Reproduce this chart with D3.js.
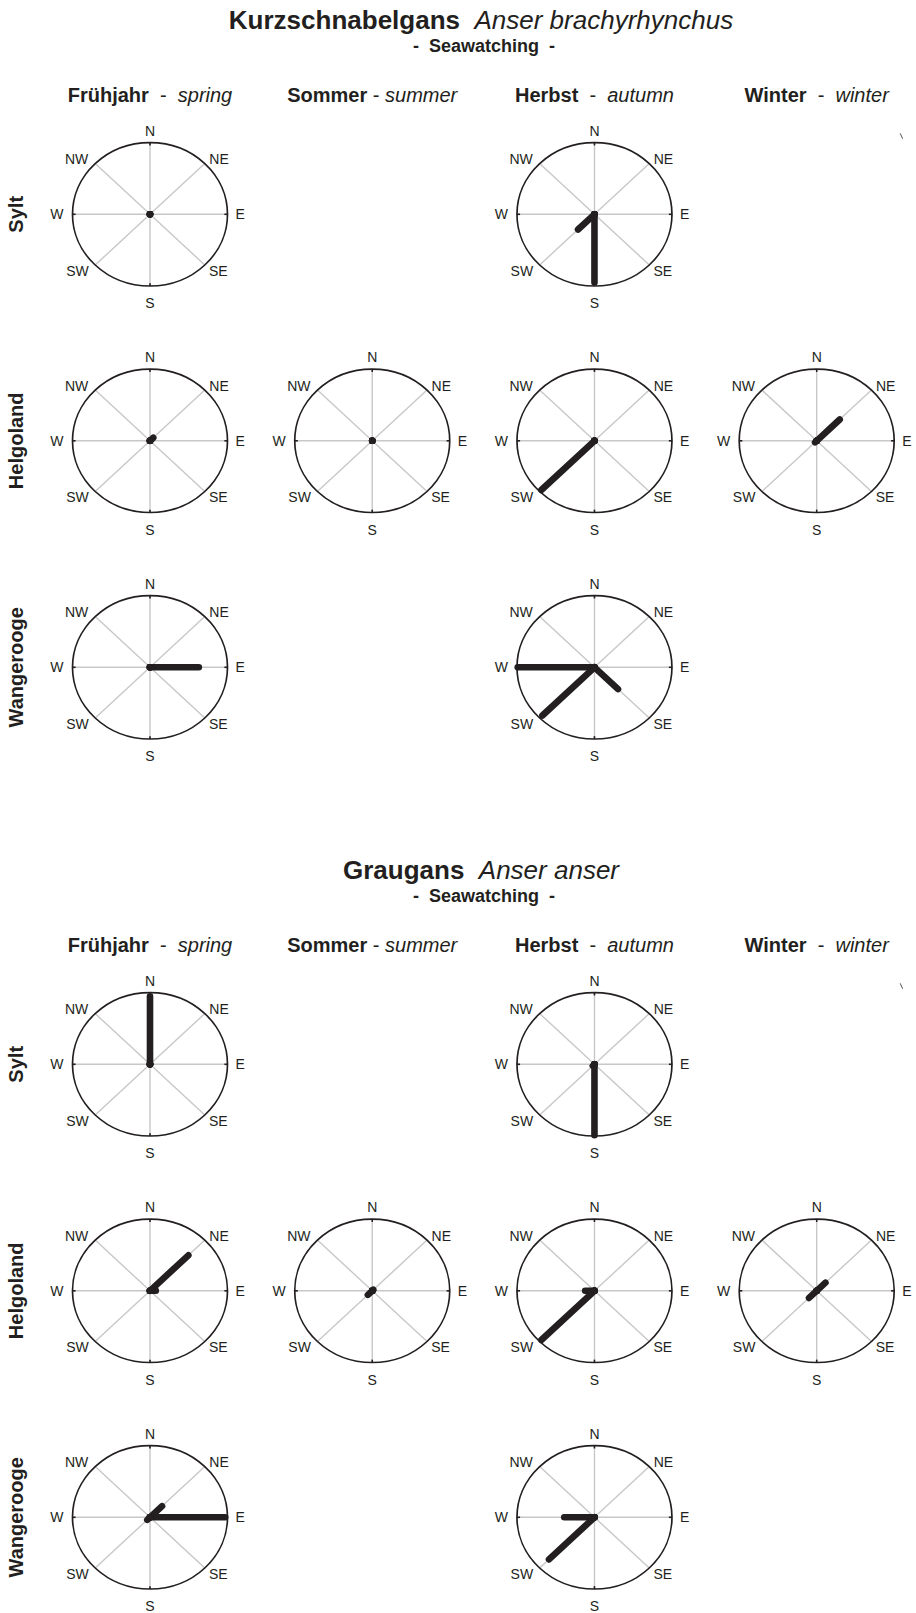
<!DOCTYPE html>
<html>
<head>
<meta charset="utf-8">
<script src="https://cdn.jsdelivr.net/npm/d3@7"></script>
<style>
  body { margin: 0; background: #fff; }
  svg text { font-family: "Liberation Sans", Arial, Helvetica, sans-serif; fill: #231f20; white-space: pre; }
</style>
</head>
<body>
<svg id="chart"></svg>
<script>
// Compass directions, clockwise from north
const directions = ["N", "NE", "E", "SE", "S", "SW", "W", "NW"];

// Seasons (German / English) and observation sites
const seasonsDe = ["Frühjahr", "Sommer", "Herbst", "Winter"];
const seasonsEn = ["spring", "summer", "autumn", "winter"];
const sites = ["Sylt", "Helgoland", "Wangerooge"];

// Species shown, one block each
const speciesDe = ["Kurzschnabelgans", "Graugans"];
const speciesLatin = ["Anser brachyrhynchus", "Anser anser"];
const methodLabel = "Seawatching";

// Share of flight directions (fraction of the outer ring), per site (rows) and season (columns),
// ordered as in `directions`; null = no data for that site/season
const brachyrhynchusShares = [
  [[0, 0, 0, 0, 0, 0, 0, 0], null, [0, 0, 0, 0, 0.95, 0.30, 0, 0], null],
  [[0, 0.06, 0, 0, 0, 0, 0, 0], [0, 0, 0, 0, 0, 0, 0, 0], [0, 0, 0, 0, 0, 0.97, 0, 0], [0, 0.42, 0, 0, 0, 0.03, 0, 0]],
  [[0, 0, 0.63, 0, 0, 0, 0, 0], null, [0, 0, 0, 0.43, 0, 0.95, 0.99, 0], null]
];
const anserShares = [
  [[0.95, 0, 0, 0, 0, 0, 0, 0], null, [0, 0, 0, 0, 0.99, 0.03, 0, 0], null],
  [[0, 0.70, 0.075, 0, 0, 0, 0, 0], [0, 0.02, 0, 0, 0, 0.08, 0, 0], [0, 0, 0, 0, 0, 0.97, 0.12, 0], [0, 0.16, 0, 0, 0, 0.14, 0, 0]],
  [[0, 0.22, 0.97, 0, 0, 0.05, 0, 0], null, [0, 0, 0, 0, 0, 0.83, 0.39, 0], null]
];
const speciesShares = [brachyrhynchusShares, anserShares];

// ---- layout ----
const W = 916, H = 1613;
const RX = 77.5, RY = 71.7;          // compass ellipse radii
const BLOCK = 850;                   // vertical offset between species blocks
const INK = "#231f20";

const svg = d3.select("#chart").attr("width", W).attr("height", H);
svg.append("rect").attr("width", W).attr("height", H).attr("fill", "#fff");

const colX = d3.scalePoint().domain(seasonsDe).range([150, 816.7]);
const rowY = d3.scalePoint().domain(sites).range([214.3, 667.3]);
const angle = d3.scaleLinear().domain([0, directions.length]).range([0, 2 * Math.PI]);
const radX = d3.scaleLinear().domain([0, 1]).range([0, RX]);
const radY = d3.scaleLinear().domain([0, 1]).range([0, RY]);

const px = (k, v) => radX(v) * Math.sin(angle(k));
const py = (k, v) => -radY(v) * Math.cos(angle(k));

// label placement around each compass
function labelSpec(dir) {
  switch (dir) {
    case "N":  return { x: 0, y: -RY - 6.8, anchor: "middle" };
    case "S":  return { x: 0, y: RY + 22.3, anchor: "middle" };
    case "E":  return { x: RX + 8, y: 5, anchor: "start" };
    case "W":  return { x: -RX - 9, y: 5, anchor: "end" };
    case "NE": return { x: 59.3, y: -50.3, anchor: "start" };
    case "NW": return { x: -61.7, y: -50.3, anchor: "end" };
    case "SE": return { x: 59.0, y: 61.7, anchor: "start" };
    case "SW": return { x: -61.3, y: 61.7, anchor: "end" };
  }
}

function drawCompass(parent, cx, cy, shares) {
  const g = parent.append("g").attr("transform", `translate(${cx},${cy})`);

  g.append("ellipse").attr("rx", RX).attr("ry", RY).attr("fill", "#fff");

  // grey spokes
  g.selectAll("line.spoke").data(directions).join("line")
    .attr("class", "spoke")
    .attr("x1", 0).attr("y1", 0)
    .attr("x2", (d, k) => px(k, 1)).attr("y2", (d, k) => py(k, 1))
    .attr("stroke", "#c8c8c8").attr("stroke-width", 1.4);

  // outline
  g.append("ellipse").attr("rx", RX).attr("ry", RY)
    .attr("fill", "none").attr("stroke", INK).attr("stroke-width", 1.7);

  // small ticks at the cardinal points
  g.selectAll("line.tick").data([0, 2, 4, 6]).join("line")
    .attr("class", "tick")
    .attr("x1", k => px(k, 0.96)).attr("y1", k => py(k, 0.96))
    .attr("x2", k => px(k, 1)).attr("y2", k => py(k, 1))
    .attr("stroke", INK).attr("stroke-width", 1.6);

  // direction bars
  g.selectAll("path.bar").data(shares).join("path")
    .attr("class", "bar")
    .attr("d", (v, k) => `M0,0L${px(k, v)},${py(k, v)}`)
    .attr("fill", "none")
    .attr("stroke", INK).attr("stroke-width", 6.6)
    .attr("stroke-linecap", "round");

  // direction labels
  g.selectAll("text.dir").data(directions).join("text")
    .attr("class", "dir")
    .attr("x", d => labelSpec(d).x).attr("y", d => labelSpec(d).y)
    .attr("text-anchor", d => labelSpec(d).anchor)
    .attr("font-size", 14)
    .text(d => d);
}

speciesDe.forEach((name, s) => {
  const block = svg.append("g").attr("transform", `translate(0,${s * BLOCK})`);

  const title = block.append("text")
    .attr("x", 481).attr("y", 28.8)
    .attr("text-anchor", "middle").attr("font-size", 26);
  title.append("tspan").attr("font-weight", "bold").text(name);
  title.append("tspan").text("  ");
  title.append("tspan").attr("font-style", "italic").text(speciesLatin[s]);

  block.append("text")
    .attr("x", 484).attr("y", 51.5)
    .attr("text-anchor", "middle").attr("font-size", 18).attr("font-weight", "bold")
    .text(`-  ${methodLabel}  -`);

  // season headers
  seasonsDe.forEach((season, j) => {
    const t = block.append("text")
      .attr("x", colX(season)).attr("y", 102)
      .attr("text-anchor", "middle").attr("font-size", 20);
    t.append("tspan").attr("font-weight", "bold").text(season);
    t.append("tspan").text(j === 1 ? " - " : "  -  ");
    t.append("tspan").attr("font-style", "italic").text(seasonsEn[j]);
  });

  // site labels
  sites.forEach(site => {
    block.append("text")
      .attr("transform", `translate(23,${rowY(site)}) rotate(-90)`)
      .attr("text-anchor", "middle").attr("font-size", 20).attr("font-weight", "bold")
      .text(site);
  });

  // compasses
  speciesShares[s].forEach((row, i) => {
    row.forEach((shares, j) => {
      if (!shares) return;
      drawCompass(block, colX(seasonsDe[j]), rowY(sites[i]), shares);
    });
  });

  // faint stray stroke in the empty Sylt/winter cell
  const wx = colX("Winter"), wy = rowY("Sylt");
  block.append("line")
    .attr("x1", wx + 83.5).attr("y1", wy - 81)
    .attr("x2", wx + 86).attr("y2", wy - 75.5)
    .attr("stroke", "#555").attr("stroke-width", 1);
});
</script>
</body>
</html>
